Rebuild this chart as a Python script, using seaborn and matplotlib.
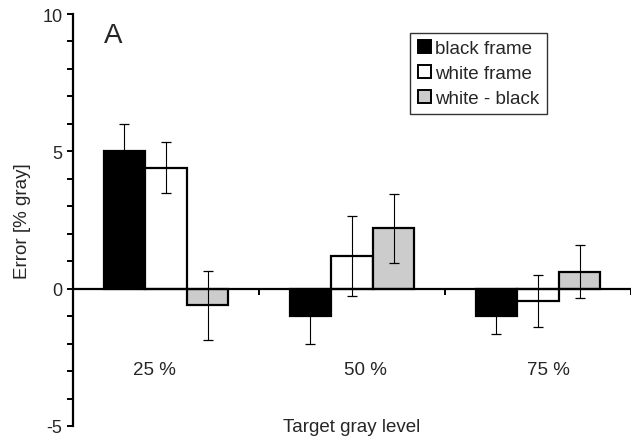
import numpy as np
import pandas as pd
import matplotlib
matplotlib.use("Agg")
import matplotlib.pyplot as plt
import matplotlib.patches as mpatches
from matplotlib.ticker import MultipleLocator
import seaborn as sns

# ---- data ----
levels = ["25 %", "50 %", "75 %"]
series = ["black frame", "white frame", "white - black"]
black_frame = [5.0, -1.0, -1.0]
white_frame = [4.4, 1.2, -0.45]
white_minus_black = [-0.6, 2.2, 0.62]
black_err = [1.0, 1.0, 0.65]
white_err = [0.93, 1.45, 0.95]
diff_err = [1.26, 1.26, 0.96]
colors = ["#000000", "#ffffff", "#cccccc"]

sns.set_style("white")
plt.rcParams["font.family"] = ["Liberation Sans", "DejaVu Sans"]
plt.rcParams["axes.unicode_minus"] = False

df = pd.DataFrame({
    "level": levels * 3,
    "frame": [s for s in series for _ in levels],
    "error": black_frame + white_frame + white_minus_black,
})

fig = plt.figure(figsize=(6.31, 4.39), dpi=100)
ax = fig.add_axes([73 / 631, 12 / 439, 558 / 631, 412 / 439])

sns.barplot(data=df, x="level", y="error", hue="frame", order=levels,
            hue_order=series, palette=colors, saturation=1, width=0.67,
            edgecolor="black", linewidth=1.6, errorbar=None, legend=False,
            ax=ax)

for container, errs in zip(ax.containers, [black_err, white_err, diff_err]):
    for bar, e in zip(container, errs):
        xc = bar.get_x() + bar.get_width() / 2
        yt = bar.get_y() + bar.get_height()
        ax.errorbar(xc, yt, yerr=e, color="black", elinewidth=0.8,
                    capsize=3.5, capthick=0.9, zorder=5)

ax.set_xlim(-0.5, 2.5)
ax.set_ylim(-5, 10)
ax.set_yticks([-5, 0, 5, 10])
ax.yaxis.set_minor_locator(MultipleLocator(1))
ax.set_xticks([0.5, 1.5, 2.5])
ax.set_xticklabels([])
ax.set_xlabel("")
ax.set_ylabel("Error [% gray]", fontsize=13.5, labelpad=8)

for s in ["top", "right"]:
    ax.spines[s].set_visible(False)
ax.spines["bottom"].set_position(("data", 0))
ax.spines["bottom"].set_linewidth(1.6)
ax.spines["left"].set_linewidth(1.6)
ax.spines["bottom"].set_color("black")
ax.spines["left"].set_color("black")

ax.tick_params(axis="y", which="major", direction="out", length=4.5,
               width=1.4, labelsize=13, left=True, color="black", pad=3)
ax.tick_params(axis="y", which="minor", direction="out", length=4.5,
               width=1.4, left=True, color="black")
ax.tick_params(axis="x", which="major", direction="out", length=4,
               width=1.4, bottom=True, color="black")

# category labels below the zero line
label_x = [-0.06, 1.07, 2.055]
for xp, lab in zip(label_x, levels):
    ax.text(xp, -3.1, lab, ha="center", va="baseline", fontsize=13.5)
ax.text(1.0, -5.18, "Target gray level", ha="center", va="baseline",
        fontsize=13.5, clip_on=False)
ax.text(0.072, 0.932, "A", transform=ax.transAxes, ha="center",
        va="baseline", fontsize=20)

handles = [mpatches.Patch(facecolor=c, edgecolor="black", linewidth=1.4,
                          label=s) for c, s in zip(colors, series)]
leg = ax.legend(handles=handles, loc="upper right",
                bbox_to_anchor=(0.849, 0.954), borderaxespad=0,
                fontsize=13.5, frameon=True, fancybox=False,
                handlelength=0.7, handleheight=0.7, handletextpad=0.25,
                labelspacing=0.42, borderpad=0.38)
leg.get_frame().set_edgecolor("black")
leg.get_frame().set_linewidth(1.0)

fig.savefig("out.png", dpi=100)
